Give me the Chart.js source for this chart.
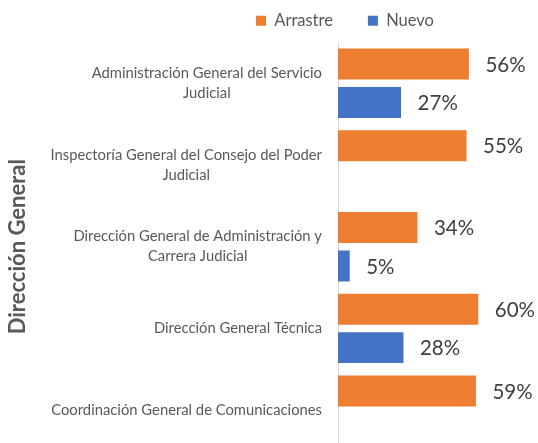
<!DOCTYPE html>
<html>
<head>
<meta charset="utf-8">
<script src="https://cdn.jsdelivr.net/npm/chart.js@4.4.1/dist/chart.umd.min.js"></script>
<style>
  html, body { margin: 0; padding: 0; overflow: hidden; background: #ffffff; }
  #wrap { position: relative; width: 538px; height: 470px; }
</style>
</head>
<body>
<div id="wrap"><canvas id="c"></canvas></div>
<script>
// ---- data ----
const categories = [
  ['Administración General del Servicio', 'Judicial'],
  ['Inspectoría General del Consejo del Poder', 'Judicial'],
  ['Dirección General de Administración y', 'Carrera Judicial'],
  ['Dirección General Técnica'],
  ['Coordinación General de Comunicaciones']
];
const seriesNames = ['Arrastre', 'Nuevo'];
const arrastreValues = [56, 55, 34, 60, 59];
const nuevoValues = [27, null, 5, 28, null];
const yAxisTitle = 'Dirección General';

// ---- styles ----
const FONT = 'Lato, "Noto Sans", sans-serif';
const ORANGE = '#ED7D31';
const BLUE = '#4472C4';

const legendFix = {
  id: 'legendFix',
  beforeLayout(chart) {
    const lg = chart.legend;
    if (lg && !lg._fixed) {
      const orig = lg.fit.bind(lg);
      lg.fit = function () { orig(); this.height = 42.4; };
      lg._fixed = true;
    }
  },
  afterLayout(chart) {
    const lg = chart.legend;
    if (!lg) return;
    const p = lg.options.labels.padding;
    lg.top = 12.5 - p;
    lg.left = 256 - p;
  }
};

const categoryLabels = {
  id: 'categoryLabels',
  afterDraw(chart) {
    const scale = chart.scales.y;
    const ctx = chart.ctx;
    ctx.save();
    ctx.font = '14.8px ' + FONT;
    ctx.fillStyle = '#595959';
    ctx.textAlign = 'center';
    ctx.textBaseline = 'middle';
    const lh = 20;
    categories.forEach((lines, i) => {
      const y = scale.getPixelForTick(i);
      const maxW = Math.max(...lines.map(l => ctx.measureText(l).width));
      const cx = scale.right - 16 - maxW / 2;
      const y0 = y - (lines.length - 1) * lh / 2;
      lines.forEach((l, k) => ctx.fillText(l, cx, y0 + k * lh));
    });
    ctx.restore();
  }
};

const valueLabels = {
  id: 'valueLabels',
  afterDatasetsDraw(chart) {
    const ctx = chart.ctx;
    ctx.save();
    ctx.font = '20.5px ' + FONT;
    ctx.fillStyle = '#404040';
    ctx.textAlign = 'left';
    ctx.textBaseline = 'middle';
    chart.data.datasets.forEach((ds, di) => {
      const meta = chart.getDatasetMeta(di);
      meta.data.forEach((el, i) => {
        const v = ds.data[i];
        if (v === null || v === undefined) return;
        ctx.fillText(v + '%', el.x + 16.5, el.y + 1);
      });
    });
    ctx.restore();
  }
};

new Chart(document.getElementById('c'), {
  type: 'bar',
  data: {
    labels: categories,
    datasets: [
      { label: seriesNames[0], data: arrastreValues, backgroundColor: ORANGE, borderWidth: 0,
        barPercentage: 0.807, categoryPercentage: 0.94 },
      { label: seriesNames[1], data: nuevoValues, backgroundColor: BLUE, borderWidth: 0,
        barPercentage: 0.807, categoryPercentage: 0.94 }
    ]
  },
  options: {
    indexAxis: 'y',
    responsive: true,
    maintainAspectRatio: false,
    animation: false,
    layout: { padding: { top: 0, left: 0, right: 13, bottom: 19 } },
    scales: {
      x: { display: false, min: 0, max: 80 },
      y: {
        grid: { display: false },
        border: { display: true, color: '#d9d9d9', width: 1 },
        ticks: { display: false },
        title: {
          display: true, text: yAxisTitle, color: '#595959',
          font: { family: FONT, size: 22, weight: 'bold' },
          padding: { top: 5, bottom: 0 }
        },
        afterFit(scale) { scale.width = 338; }
      }
    },
    plugins: {
      tooltip: { enabled: false },
      legend: {
        position: 'top',
        align: 'start',
        labels: {
          boxWidth: 10, boxHeight: 10, padding: 35, color: '#595959',
          font: { family: FONT, size: 16.5 }
        }
      }
    }
  },
  plugins: [legendFix, categoryLabels, valueLabels]
});
</script>
</body>
</html>
